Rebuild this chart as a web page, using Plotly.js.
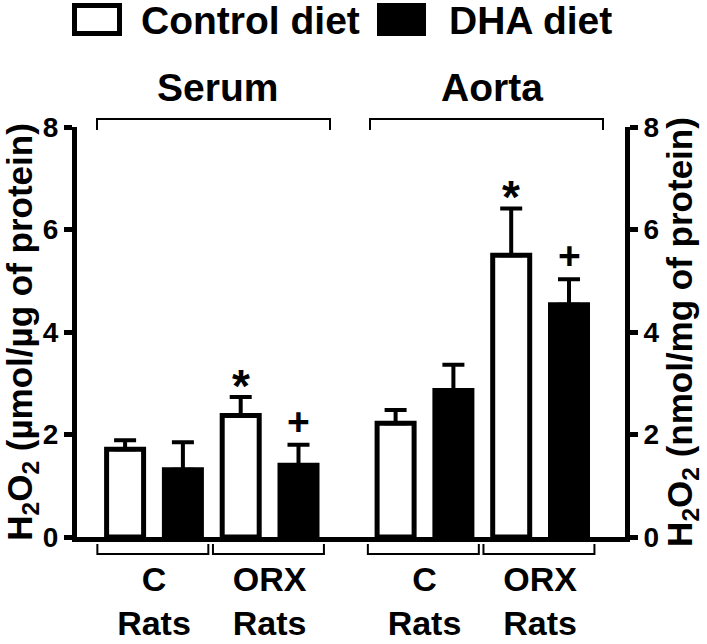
<!DOCTYPE html>
<html>
<head>
<meta charset="utf-8">
<script src="https://cdn.plot.ly/plotly-3.0.1.min.js"></script>
<style>html,body{margin:0;padding:0;background:#fff;}#chart{width:707px;height:644px;}</style>
</head>
<body>
<div id="chart"></div>
<script>
// ---- data ----
const groups = ['C<br>Rats', 'ORX<br>Rats'];
const seriesNames = ['Control diet', 'DHA diet'];
const panelNames = ['Serum', 'Aorta'];

const serumControl = [1.71, 2.37];
const serumControlErr = [0.18, 0.36];
const serumDHA = [1.31, 1.40];
const serumDHAErr = [0.54, 0.40];

const aortaControl = [2.22, 5.50];
const aortaControlErr = [0.26, 0.91];
const aortaDHA = [2.86, 4.53];
const aortaDHAErr = [0.50, 0.50];

const serumControlSig = ['', '*'];
const serumDHASig = ['', '+'];
const aortaControlSig = ['', '*'];
const aortaDHASig = ['', '+'];

const yTicks = [0, 2, 4, 6, 8];
const yTitleLeft = 'H<sub>2</sub>O<sub>2</sub> (µmol/µg of protein)';
const yTitleRight = 'H<sub>2</sub>O<sub>2</sub> (nmol/mg of protein)';

// ---- layout helpers ----
const W = 707, H = 644;
const L = 77, R = 625, T = 127, B = 537;
const px = v => (v - L) / (R - L);
const py = v => (B - v) / (B - T);
const FONT = 'Liberation Sans, Arial, Helvetica, sans-serif';
const split = px(347);

function barTrace(name, y, err, fill, xa, ya) {
  return {
    type: 'bar', name: name, x: groups, y: y, xaxis: xa, yaxis: ya,
    showlegend: false,
    marker: {color: fill, line: {color: '#000', width: 5}},
    error_y: {type: 'data', symmetric: false, array: err, arrayminus: err.map(() => 0),
              color: '#000', thickness: 4, width: 11},
    hoverinfo: 'y'
  };
}

const data = [
  barTrace(seriesNames[0], serumControl, serumControlErr, '#fff', 'x', 'y'),
  barTrace(seriesNames[1], serumDHA, serumDHAErr, '#000', 'x', 'y'),
  barTrace(seriesNames[0], aortaControl, aortaControlErr, '#fff', 'x2', 'y2'),
  barTrace(seriesNames[1], aortaDHA, aortaDHAErr, '#000', 'x2', 'y2')
];

const annotations = [];
function sigAnn(sig, vals, errs, off, xr, yr) {
  sig.forEach((s, i) => {
    if (!s) return;
    const star = s === '*';
    annotations.push({
      text: '<b>' + s + '</b>', x: i + off, y: vals[i] + errs[i], xref: xr, yref: yr,
      xanchor: 'center', yanchor: 'bottom', showarrow: false,
      yshift: star ? -17 : 0,
      font: {family: FONT, size: star ? 46 : 39, color: '#000'}
    });
  });
}
sigAnn(serumControlSig, serumControl, serumControlErr, -0.25, 'x', 'y');
sigAnn(serumDHASig, serumDHA, serumDHAErr, 0.25, 'x', 'y');
sigAnn(aortaControlSig, aortaControl, aortaControlErr, -0.25, 'x2', 'y2');
sigAnn(aortaDHASig, aortaDHA, aortaDHAErr, 0.25, 'x2', 'y2');

const bigFont = {family: FONT, size: 39, color: '#000'};
// panel titles
annotations.push({text: '<b>' + panelNames[0] + '</b>', x: px(217.5), y: py(88), xref: 'paper', yref: 'paper',
  showarrow: false, xanchor: 'center', yanchor: 'middle', font: bigFont});
annotations.push({text: '<b>' + panelNames[1] + '</b>', x: px(492), y: py(88), xref: 'paper', yref: 'paper',
  showarrow: false, xanchor: 'center', yanchor: 'middle', font: bigFont});
// legend texts
annotations.push({text: '<b>' + seriesNames[0] + '</b>', x: px(139), y: py(20), xref: 'paper', yref: 'paper',
  showarrow: false, xanchor: 'left', yanchor: 'middle', font: bigFont});
annotations.push({text: '<b>' + seriesNames[1] + '</b>', x: px(447), y: py(20), xref: 'paper', yref: 'paper',
  showarrow: false, xanchor: 'left', yanchor: 'middle', font: bigFont});

const thin = {color: '#000', width: 2};
const shapes = [
  // legend swatches
  {type: 'rect', xref: 'paper', yref: 'paper', x0: px(74.5), x1: px(119.5), y0: py(33.5), y1: py(5.5),
   line: {color: '#000', width: 5}, fillcolor: '#fff'},
  {type: 'rect', xref: 'paper', yref: 'paper', x0: px(377), x1: px(426), y0: py(36), y1: py(3),
   line: {color: '#000', width: 0}, fillcolor: '#000'},
  // top brackets
  {type: 'path', xref: 'paper', yref: 'paper', line: thin,
   path: `M${px(97)},${py(130)} L${px(97)},${py(119)} L${px(330)},${py(119)} L${px(330)},${py(130)}`},
  {type: 'path', xref: 'paper', yref: 'paper', line: thin,
   path: `M${px(370)},${py(130)} L${px(370)},${py(119)} L${px(603)},${py(119)} L${px(603)},${py(130)}`}
];
// bottom group brackets (data x, paper y)
['x', 'x2'].forEach(xr => {
  groups.forEach((g, i) => {
    const a = i - 0.49, b = i + 0.47;
    shapes.push({type: 'path', xref: xr, yref: 'paper', line: thin,
      path: `M${a},${py(544)} L${a},${py(554)} L${b},${py(554)} L${b},${py(544)}`});
  });
});

const unit = 115.6;
const tickFont = {family: FONT, size: 28, color: '#000', weight: 'bold'};
const xCommon = {
  type: 'category', showgrid: false, zeroline: false, showline: true, linecolor: '#000', linewidth: 5,
  ticks: '', tickfont: {family: FONT, size: 34, color: '#000', weight: 'bold'}, fixedrange: true,
  ticklabelstandoff: 8
};
const yCommon = {
  range: [0, 8], tickvals: yTicks, showgrid: false, zeroline: false, showline: true,
  linecolor: '#000', linewidth: 5, ticks: 'outside', ticklen: 8, tickwidth: 5, tickcolor: '#000',
  tickfont: tickFont, fixedrange: true
};

const layout = {
  width: W, height: H,
  margin: {l: L, r: W - R, t: T, b: H - B, pad: 0},
  paper_bgcolor: '#fff', plot_bgcolor: 'rgba(0,0,0,0)',
  barmode: 'group', bargap: 0, bargroupgap: 0.36,
  showlegend: false,
  xaxis: Object.assign({}, xCommon, {domain: [0, split], anchor: 'y',
    range: [(L - 154) / unit, (L - 154) / unit + (347 - L) / unit]}),
  xaxis2: Object.assign({}, xCommon, {domain: [split, 1], anchor: 'y2',
    range: [(347 - 424.5) / unit, (347 - 424.5) / unit + (R - 347) / unit]}),
  yaxis: Object.assign({}, yCommon, {anchor: 'x', side: 'left',
    title: {text: yTitleLeft, font: {family: FONT, size: 35, color: '#000', weight: 'bold'}, standoff: 6}}),
  yaxis2: Object.assign({}, yCommon, {anchor: 'x2', side: 'right',
    title: {text: yTitleRight, font: {family: FONT, size: 35, color: '#000', weight: 'bold'}, standoff: 10}}),
  annotations: annotations,
  shapes: shapes,
  font: {family: FONT, color: '#000'}
};

Plotly.newPlot('chart', data, layout, {displayModeBar: false, staticPlot: true});
</script>
</body>
</html>
